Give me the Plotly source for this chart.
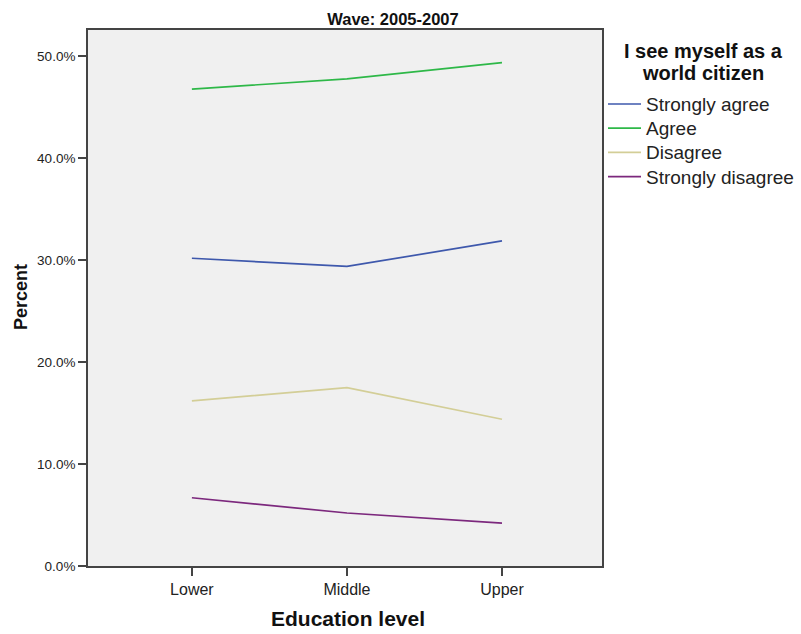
import plotly.graph_objects as go

categories = ["Lower", "Middle", "Upper"]
series_names = ["Strongly agree", "Agree", "Disagree", "Strongly disagree"]
strongly_agree = [30.2, 29.4, 31.9]
agree = [46.8, 47.8, 49.4]
disagree = [16.2, 17.5, 14.4]
strongly_disagree = [6.7, 5.2, 4.2]
y_ticks = [0, 10, 20, 30, 40, 50]
y_tick_labels = ["0.0%", "10.0%", "20.0%", "30.0%", "40.0%", "50.0%"]

colors = ["#3E58AC", "#2EB848", "#D3CE97", "#7C287D"]
values = [strongly_agree, agree, disagree, strongly_disagree]

W, H = 801, 634
L, R, T, B = 88, 199, 30, 68
PW, PH = W - L - R, H - T - B


def px_x(x):
    return (x - L) / PW


def px_y(y):
    return 1 - (y - T) / PH


fig = go.Figure()
for name, vals, c in zip(series_names, values, colors):
    fig.add_trace(go.Scatter(x=[0, 1, 2], y=vals, mode="lines", name=name,
                             line=dict(color=c, width=1.7), showlegend=False))

FONT = "Arial, Liberation Sans, sans-serif"

annotations = [
    dict(text="<b>I see myself as a</b>", x=px_x(703), y=px_y(51), xref="paper", yref="paper",
         xanchor="center", yanchor="middle", showarrow=False, font=dict(size=20, color="#111")),
    dict(text="<b>world citizen</b>", x=px_x(703), y=px_y(73), xref="paper", yref="paper",
         xanchor="center", yanchor="middle", showarrow=False, font=dict(size=20, color="#111")),
    dict(text="<b>Percent</b>", x=px_x(21), y=px_y(297), xref="paper", yref="paper",
         xanchor="center", yanchor="middle", textangle=-90, showarrow=False,
         font=dict(size=18, color="#111")),
    dict(text="<b>Education level</b>", x=px_x(347.5), y=px_y(618), xref="paper", yref="paper",
         xanchor="center", yanchor="middle", showarrow=False, font=dict(size=21, color="#111")),
]
shapes = []
# legend (manual, to match the original item spacing)
for i, (name, c) in enumerate(zip(series_names, colors)):
    yc = 104 + 24.2 * i
    shapes.append(dict(type="line", xref="paper", yref="paper",
                       x0=px_x(608), x1=px_x(641), y0=px_y(yc), y1=px_y(yc),
                       line=dict(color=c, width=1.7)))
    annotations.append(dict(text=name, x=px_x(644), y=px_y(yc + 0.5), xref="paper", yref="paper",
                            xanchor="left", yanchor="middle", showarrow=False,
                            font=dict(size=19, color="#222")))

fig.update_layout(
    width=W, height=H,
    margin=dict(l=L, r=R, t=T, b=B),
    paper_bgcolor="white", plot_bgcolor="#F0F0F0",
    font=dict(family=FONT, color="#222"),
    title=dict(text="<b>Wave: 2005-2007</b>", x=393 / W, xanchor="center",
               y=1 - 19 / H, yanchor="middle", font=dict(size=16.5, color="#111")),
    showlegend=False,
    annotations=annotations,
    shapes=shapes,
)
fig.update_xaxes(
    range=[-0.67, 2.645], tickvals=[0, 1, 2], ticktext=categories,
    showgrid=False, zeroline=False, showline=True, linecolor="#444", linewidth=1.8,
    mirror=True, ticks="outside", ticklen=8, tickcolor="#444", tickwidth=1.5,
    tickfont=dict(size=16, color="#222"),
)
fig.update_yaxes(
    range=[0, 52.6], tickvals=y_ticks, ticktext=y_tick_labels,
    showgrid=False, zeroline=False, showline=True, linecolor="#444", linewidth=1.8,
    mirror=True, ticks="outside", ticklen=8, tickcolor="#444", tickwidth=1.5,
    tickfont=dict(size=13.5, color="#222"),
)

fig.write_html("out.html", config={"displayModeBar": False},
               post_script="document.body.style.margin='0';")
